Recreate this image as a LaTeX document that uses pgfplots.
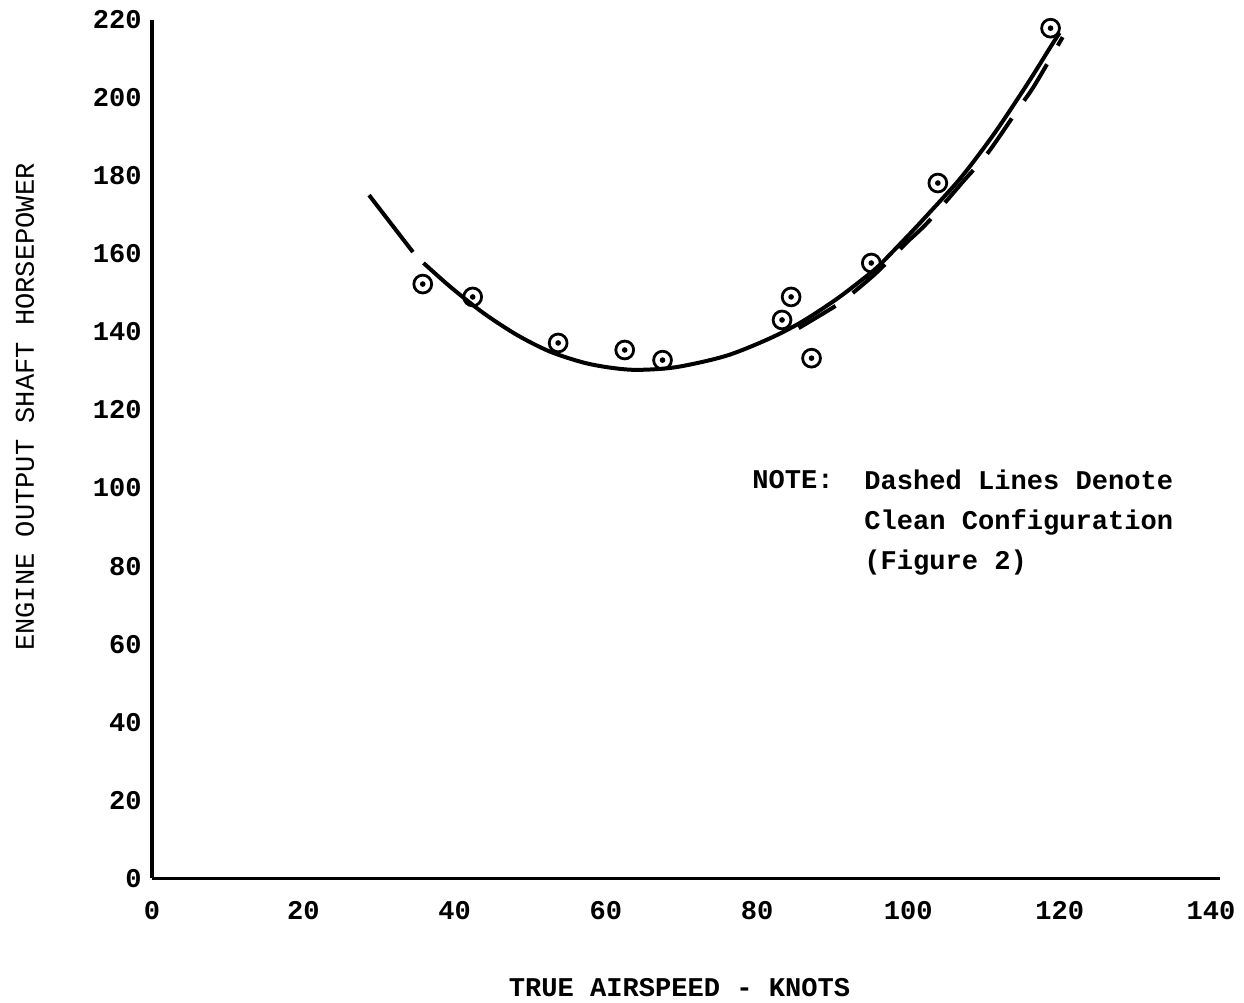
\documentclass[border=0pt]{standalone}
\usepackage{fontspec}
\setmainfont{Liberation Mono}
\usepackage{pgfplots}
\pgfplotsset{compat=1.18}

\begin{document}
\fontsize{8.8}{13}\selectfont
\begin{tikzpicture}
\begin{axis}[
    scale only axis,
    width=347.1pt, height=278.9pt,
    xmin=0, xmax=141.2, ymin=0, ymax=220,
    axis x line=bottom, axis y line=left,
    axis line style={-, line width=1pt},
    xtick={0,20,...,140}, ytick={0,20,...,220},
    major tick length=0pt,
    /pgf/number format/assume math mode=true,
    tick label style={font=\bfseries},
    xticklabel style={anchor=north, inner sep=0pt, yshift=-7.5pt},
    yticklabel style={anchor=east, inner sep=0pt, xshift=-3.2pt},
    xlabel={\bfseries TRUE AIRSPEED - KNOTS},
    ylabel={ENGINE OUTPUT SHAFT HORSEPOWER},
    every axis x label/.style={at={(rel axis cs:0.494,-0.127)}, anchor=center},
    every axis y label/.style={at={(rel axis cs:-0.1189,0.549)}, rotate=90, anchor=center},
    clip=false,
]
% faired curve, with stores
\addplot[black, line width=1.3pt, smooth] coordinates {
  (35.9,157.7) (39.5,151.5) (43.8,144.9) (48.3,139.2) (52.6,135.0)
  (57.0,132.2) (60.5,130.9) (64.1,130.3) (69.3,131.0) (75.9,133.9)
  (81.6,138.3) (85.9,142.6) (90.4,148.3) (93.8,153.3) (96.1,157.0)
  (100.0,164.8) (102.6,170.2) (107.0,179.7) (111.4,191.0) (115.8,203.8)
  (118.8,213.1) (120.0,216.7)
};
% clean configuration (figure 2)
\addplot[black, line width=1.3pt] coordinates {(28.7,175.1) (34.5,160.5)};
\addplot[black, line width=1.3pt, smooth, dash pattern=on 14pt off 7pt] coordinates {
  (85.5,141.0) (88.6,144.6) (91.0,147.5) (93.2,150.9) (96.0,155.6)
  (99.7,162.8) (102.6,168.2) (107.2,178.5) (110.5,185.9) (114.7,197.7)
  (116.7,203.3) (120.4,215.6)
};
% flight test points
\addplot[only marks, mark=o, mark size=2.9pt, line width=0.9pt, black] coordinates {
  (35.8,152.3) (42.4,149.0) (53.7,137.2) (62.5,135.4) (67.5,132.8)
  (83.3,143.1) (84.5,149.0) (87.2,133.3) (95.1,157.7) (103.9,178.2)
  (118.8,217.9)
};
\addplot[only marks, mark=*, mark size=0.7pt, black] coordinates {
  (35.8,152.3) (42.4,149.0) (53.7,137.2) (62.5,135.4) (67.5,132.8)
  (83.3,143.1) (84.5,149.0) (87.2,133.3) (95.1,157.7) (103.9,178.2)
  (118.8,217.9)
};
\node[anchor=west, inner sep=0pt, font=\bfseries] at (axis cs:79.3,102.1) {NOTE:};
\node[anchor=west, inner sep=0pt, font=\bfseries] at (axis cs:94.1,102.1) {Dashed Lines Denote};
\node[anchor=west, inner sep=0pt, font=\bfseries] at (axis cs:94.1,91.3) {Clean Configuration};
\node[anchor=west, inner sep=0pt, font=\bfseries] at (axis cs:94.1,81.0) {(Figure 2)};
\coordinate (bbl) at (rel axis cs:-0.1423,-0.1445);
\coordinate (btr) at (rel axis cs:1.0225,1.0233);
\end{axis}
\pgfresetboundingbox
\useasboundingbox (bbl) rectangle (btr);
\end{tikzpicture}
\end{document}
